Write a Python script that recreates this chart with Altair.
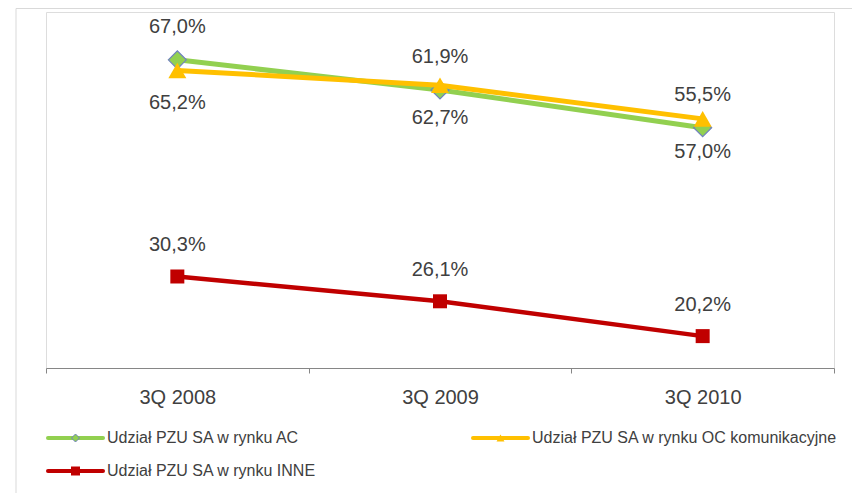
import altair as alt
import pandas as pd

categories = ["3Q 2008", "3Q 2009", "3Q 2010"]
series_names = [
    "Udział PZU SA w rynku AC",
    "Udział PZU SA w rynku OC komunikacyjne",
    "Udział PZU SA w rynku INNE",
]
ac_values = [67.0, 61.9, 55.5]
oc_values = [65.2, 62.7, 57.0]
inne_values = [30.3, 26.1, 20.2]

colors = ["#92D050", "#FFC000", "#C00000"]
shapes = ["diamond", "triangle-up", "square"]

rows = []
for name, vals in zip(series_names, [ac_values, oc_values, inne_values]):
    for c, v in zip(categories, vals):
        rows.append({"cat": c, "series": name, "value": v,
                     "label": f"{v:.1f}%".replace(".", ",")})
df = pd.DataFrame(rows)

W, H = 788, 356
FONT = "Liberation Sans"
TXT = "#404040"

x_enc = alt.X("cat:N", sort=categories, title=None,
              scale=alt.Scale(type="band", paddingInner=0, paddingOuter=0),
              axis=alt.Axis(labelAngle=0, labelFontSize=20, labelFont=FONT,
                            labelColor=TXT, labelPadding=14, tickBand="extent",
                            tickSize=5, tickColor="#868686", domainColor="#868686",
                            domainWidth=1, grid=False))
y_enc = alt.Y("value:Q", title=None, axis=None,
              scale=alt.Scale(domain=[14.8, 75.1], nice=False, zero=False))

base = alt.Chart(df).encode(x=x_enc, y=y_enc)

frame = alt.Chart(alt.Data(values=[{}])).mark_rect(
    fill=None, stroke="#d9d9d9", strokeWidth=1
).encode(x=alt.value(-30), x2=alt.value(1000), y=alt.value(-3.5), y2=alt.value(800))

layers = [frame]
line_w = [5, 5, 4.5]
pt_size = [324, 324, 196]
label_dy = [-33, 33, -31]
order = [2, 0, 1]  # red first, then green, then yellow on top
for i in order:
    name = series_names[i]
    sub = base.transform_filter(alt.datum.series == name)
    layers.append(sub.mark_line(color=colors[i], strokeWidth=line_w[i]))
    stroke_kw = {"stroke": "#7080C0", "strokeWidth": 1.2} if i == 0 else {"strokeWidth": 0}
    layers.append(sub.mark_point(shape=shapes[i], size=pt_size[i], filled=True,
                                 color=colors[i], opacity=1, **stroke_kw))
for i in order:
    name = series_names[i]
    sub = base.transform_filter(alt.datum.series == name)
    layers.append(sub.mark_text(dy=label_dy[i], fontSize=20, font=FONT, color=TXT,
                                baseline="middle").encode(text="label:N"))

# legend
leg_x = [2, 427, 2]
leg_y = [426, 426, 459]
leg_marker = [64, 64, 81]
for i in range(3):
    one = alt.Chart(alt.Data(values=[{"t": series_names[i]}]))
    layers.append(one.mark_rule(color=colors[i], strokeWidth=4, strokeCap="round").encode(
        x=alt.value(leg_x[i]), x2=alt.value(leg_x[i] + 55), y=alt.value(leg_y[i])))
    kw = {"stroke": "#7080C0", "strokeWidth": 1} if i == 0 else {"strokeWidth": 0}
    layers.append(one.mark_point(shape=shapes[i], size=leg_marker[i], filled=True,
                                 color=colors[i], opacity=1, **kw).encode(
        x=alt.value(leg_x[i] + 27.5), y=alt.value(leg_y[i])))
    layers.append(one.mark_text(align="left", baseline="middle", fontSize=16, font=FONT,
                                color=TXT).encode(
        x=alt.value(leg_x[i] + 59), y=alt.value(leg_y[i]), text="t:N"))

chart = alt.layer(*layers).properties(
    width=W, height=H,
    padding={"left": 38, "top": 4, "right": 18, "bottom": 125},
    autosize=alt.AutoSizeParams(type="none"),
).configure_view(stroke=None).configure(background="white")

chart.save("out.html", embed_options={"renderer": "svg", "actions": False})
